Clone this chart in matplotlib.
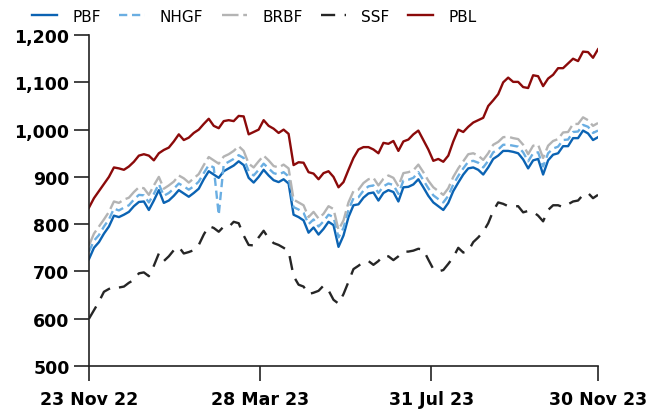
import numpy as np
import pandas as pd
import matplotlib
matplotlib.use("Agg")
import matplotlib.pyplot as plt

# 数据：日期轴（等间隔采样）
dates = pd.date_range("2022-11-23", "2023-11-30", periods=103)

pbf = [726, 750, 762, 780, 795, 818, 815, 820, 826, 838, 847, 848, 830, 850, 872, 845, 850, 860, 872, 865,
       858, 866, 875, 895, 912, 905, 898, 912, 918, 924, 933, 925, 898, 888, 900, 915, 903, 893, 889, 895,
       886, 820, 815, 808, 782, 793, 778, 790, 805, 798, 752, 776, 815, 840, 842, 856, 865, 867, 850, 866,
       872, 868, 848, 878, 879, 884, 895, 878, 860, 846, 838, 830, 845, 870, 888, 905, 918, 920, 915, 905,
       920, 938, 945, 955, 955, 953, 950, 937, 918, 935, 938, 905, 935, 947, 950, 965, 965, 982, 982, 998,
       992, 978, 984]
nhgf = [742, 765, 777, 795, 810, 833, 829, 835, 840, 852, 862, 861, 846, 864, 885, 860, 866, 875, 886, 880,
        873, 880, 890, 908, 925, 920, 820, 926, 932, 938, 946, 940, 912, 903, 915, 928, 918, 908, 905, 910,
        901, 836, 831, 824, 800, 810, 795, 806, 820, 815, 772, 792, 830, 855, 857, 871, 880, 882, 866, 880,
        886, 883, 864, 892, 894, 898, 910, 893, 876, 861, 853, 846, 860, 884, 902, 918, 932, 934, 930, 920,
        934, 952, 958, 968, 968, 966, 964, 952, 933, 950, 952, 922, 950, 960, 964, 978, 979, 995, 996, 1010,
        1006, 993, 998]
brbf = [755, 780, 795, 810, 826, 848, 845, 852, 856, 868, 878, 876, 862, 882, 900, 875, 882, 890, 903, 897,
        888, 897, 906, 925, 942, 935, 928, 943, 948, 955, 965, 955, 928, 920, 933, 945, 935, 923, 920, 926,
        918, 852, 846, 840, 815, 826, 812, 822, 838, 832, 788, 808, 846, 870, 873, 887, 895, 898, 882, 896,
        903, 898, 880, 908, 910, 914, 926, 910, 892, 878, 870, 862, 876, 900, 918, 933, 948, 950, 945, 936,
        950, 968, 974, 984, 985, 982, 980, 968, 948, 966, 968, 940, 966, 976, 980, 994, 995, 1012, 1012, 1026,
        1020, 1008, 1014]
ssf = [600, 618, 636, 657, 663, 668, 666, 668, 676, 682, 696, 698, 690, 712, 738, 722, 732, 745, 752, 738,
       741, 745, 756, 778, 796, 792, 784, 795, 794, 805, 802, 776, 756, 755, 772, 786, 770, 760, 756, 750,
       743, 690, 672, 668, 652, 655, 659, 670, 660, 640, 632, 652, 678, 705, 712, 720, 722, 714, 722, 734,
       732, 724, 732, 742, 742, 744, 748, 746, 725, 705, 700, 703, 716, 730, 750, 740, 743, 762, 772, 784,
       802, 828, 846, 843, 838, 838, 838, 825, 828, 826, 818, 806, 830, 840, 840, 836, 842, 848, 850, 862,
       866, 855, 862]
pbl = [835, 855, 870, 885, 900, 920, 918, 915, 922, 932, 945, 948, 945, 935, 950, 957, 962, 975, 990, 978,
       983, 993, 1000, 1012, 1023, 1008, 1003, 1018, 1020, 1018, 1029, 1028, 990, 995, 1000, 1020, 1008, 1002, 993, 1000,
       991, 925, 931, 930, 910, 907, 895, 908, 912, 900, 878, 889, 915, 940, 958, 963, 963, 958, 950, 972,
       970, 976, 955, 975, 979, 990, 998, 978, 958, 934, 938, 932, 945, 975, 1000, 995, 1006, 1015, 1020, 1025,
       1050, 1062, 1075, 1100, 1110, 1101, 1101, 1090, 1088, 1115, 1113, 1092, 1108, 1116, 1130, 1130, 1140, 1150, 1145, 1165,
       1164, 1152, 1170]

tick_dates = pd.to_datetime(["2022-11-23", "2023-03-28", "2023-07-31", "2023-11-30"])
tick_labels = ["23 Nov 22", "28 Mar 23", "31 Jul 23", "30 Nov 23"]

fig = plt.figure(figsize=(6.61, 4.10), dpi=100)
ax = fig.add_axes([0.1346, 0.1049, 0.7701, 0.8071])

lw = 1.7
ax.plot(dates, pbf, color="#0b63b3", lw=lw, label="PBF")
ax.plot(dates, nhgf, color="#6aaee2", lw=lw, dashes=(3.5, 2), label="NHGF")
ax.plot(dates, brbf, color="#b4b4b4", lw=lw, dashes=(7, 2), label="BRBF")
ax.plot(dates, ssf, color="#262626", lw=lw, dashes=(6, 4), label="SSF")
ax.plot(dates, pbl, color="#8b0a0a", lw=lw, label="PBL")

ax.set_ylim(500, 1200)
ax.set_yticks(range(500, 1201, 100))
ax.yaxis.set_major_formatter(matplotlib.ticker.FuncFormatter(lambda v, p: f"{int(v):,}"))
ax.set_xlim(dates[0], dates[-1])
ax.set_xticks(tick_dates)
ax.set_xticklabels(tick_labels)

for s in ["top", "right"]:
    ax.spines[s].set_visible(False)
for s in ["left", "bottom"]:
    ax.spines[s].set_linewidth(1.2)
    ax.spines[s].set_color("#222222")
ax.tick_params(axis="both", direction="out", length=11, width=1.2, color="#222222")
ax.tick_params(axis="y", pad=3, labelsize=12.5)
ax.tick_params(axis="x", pad=6, labelsize=12.5)
for lab in ax.get_xticklabels() + ax.get_yticklabels():
    lab.set_fontweight("bold")

fig.legend(loc="center left", bbox_to_anchor=(32 / 661, 1 - 17 / 410), ncol=5, frameon=False,
           fontsize=11, handlelength=1.65, columnspacing=1.2, handletextpad=1.0,
           borderpad=0, borderaxespad=0)

fig.savefig("out.png", dpi=100)
